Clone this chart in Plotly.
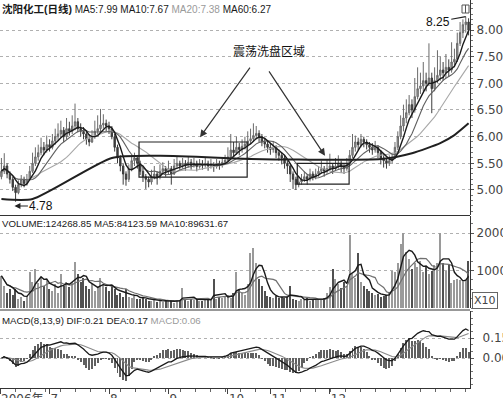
import plotly.graph_objects as go
import pandas as pd

# ---------------- data ----------------
opens = [5.25,5.35,5.45,5.30,5.20,5.05,4.95,5.10,5.20,5.12,5.20,5.35,5.50,5.62,5.70,5.80,5.75,5.85,5.80,5.92,
         6.00,6.05,6.12,6.00,6.15,6.10,6.20,6.28,6.15,6.10,6.05,5.95,5.90,6.00,6.10,6.15,6.22,6.25,6.20,6.15,
         6.00,5.80,5.60,5.45,5.30,5.20,5.40,5.55,5.60,5.50,5.35,5.25,5.20,5.15,5.25,5.30,5.25,5.35,5.40,5.35,
         5.40,5.30,5.45,5.50,5.45,5.50,5.45,5.52,5.46,5.50,5.44,5.50,5.46,5.50,5.45,5.48,5.44,5.50,5.46,5.52,
         5.56,5.62,5.75,5.70,5.80,5.76,5.82,5.86,5.92,5.96,6.02,6.06,6.00,5.90,5.86,5.80,5.76,5.80,5.70,5.65,
         5.60,5.50,5.45,5.30,5.20,5.10,5.15,5.20,5.25,5.20,5.30,5.25,5.30,5.35,5.40,5.35,5.40,5.45,5.40,5.45,
         5.50,5.45,5.40,5.50,5.65,5.80,5.90,5.85,5.95,5.90,5.85,5.80,5.75,5.80,5.70,5.60,5.55,5.50,5.55,5.60,
         5.80,6.00,6.20,6.35,6.45,6.60,6.50,6.75,6.90,6.95,7.05,7.00,7.10,6.90,7.05,7.15,7.25,7.20,7.30,7.25,
         7.40,7.45,7.75,7.95,8.10,8.15]
highs = [5.60,5.69,5.50,5.35,5.25,5.10,5.18,5.28,5.25,5.30,5.45,5.70,5.80,5.85,5.98,5.90,6.02,5.95,6.05,6.15,
         6.25,6.30,6.18,6.35,6.28,6.40,6.62,6.35,6.25,6.18,6.10,6.05,6.12,6.30,6.40,6.52,6.42,6.32,6.28,6.20,
         6.05,5.85,5.65,5.50,5.35,5.48,5.65,5.70,5.62,5.55,5.42,5.30,5.25,5.38,5.45,5.35,5.48,5.52,5.45,5.55,
         5.45,5.58,5.62,5.55,5.60,5.56,5.62,5.58,5.60,5.55,5.58,5.56,5.60,5.55,5.58,5.52,5.58,5.55,5.60,5.66,
         5.80,6.05,5.90,6.00,5.88,5.95,6.00,6.10,6.15,6.25,6.20,6.12,6.05,5.98,5.92,5.88,5.92,5.84,5.76,5.70,
         5.65,5.55,5.48,5.35,5.25,5.25,5.30,5.35,5.30,5.40,5.35,5.40,5.45,5.55,5.45,5.58,5.68,5.50,5.60,5.65,
         5.55,5.50,5.60,5.75,6.05,6.02,5.98,6.05,6.00,5.95,5.90,5.88,5.92,5.84,5.75,5.65,5.60,5.65,5.70,5.90,
         6.10,6.40,6.60,6.70,6.78,6.70,7.10,7.30,7.20,7.40,7.20,7.75,7.20,7.30,7.62,7.50,7.40,7.55,7.45,7.77,
         7.65,7.95,8.15,8.20,8.25,8.22]
lows = [5.20,5.30,5.22,5.12,4.98,4.78,4.92,5.05,5.05,5.08,5.18,5.32,5.45,5.55,5.65,5.65,5.70,5.72,5.76,5.85,
        5.92,5.98,5.90,5.95,6.02,6.05,6.12,6.08,6.00,5.95,5.85,5.82,5.88,5.96,6.05,6.10,6.15,6.10,6.05,5.95,
        5.72,5.50,5.35,5.10,5.08,5.15,5.35,5.45,5.40,5.28,5.15,5.02,5.05,5.10,5.20,5.10,5.20,5.30,5.25,5.30,
        5.10,5.28,5.40,5.38,5.40,5.36,5.42,5.38,5.42,5.35,5.40,5.38,5.42,5.36,5.40,5.34,5.40,5.38,5.42,5.48,
        5.52,5.58,5.62,5.66,5.65,5.70,5.76,5.80,5.86,5.90,5.95,5.90,5.82,5.78,5.70,5.66,5.70,5.60,5.55,5.48,
        5.40,5.30,5.15,5.02,5.00,5.05,5.10,5.15,5.10,5.16,5.18,5.20,5.25,5.30,5.25,5.30,5.36,5.30,5.36,5.40,
        5.32,5.30,5.36,5.46,5.60,5.72,5.75,5.80,5.80,5.76,5.70,5.66,5.70,5.60,5.48,5.42,5.40,5.45,5.50,5.58,
        5.75,5.95,6.10,6.25,6.40,6.35,6.45,6.70,6.80,6.85,6.85,6.95,6.44,6.85,7.00,7.05,7.05,7.10,7.12,7.20,
        7.30,7.40,7.70,7.85,7.95,7.90]
closes = [5.35,5.45,5.30,5.20,5.05,4.95,5.10,5.20,5.12,5.20,5.35,5.50,5.62,5.70,5.80,5.75,5.85,5.80,5.92,6.00,
          6.05,6.12,6.00,6.15,6.10,6.20,6.28,6.15,6.10,6.05,5.95,5.90,6.00,6.10,6.15,6.22,6.25,6.20,6.15,6.00,
          5.80,5.60,5.45,5.30,5.20,5.40,5.55,5.60,5.50,5.35,5.25,5.20,5.15,5.25,5.30,5.25,5.35,5.40,5.35,5.40,
          5.30,5.45,5.50,5.45,5.50,5.45,5.52,5.46,5.50,5.44,5.50,5.46,5.50,5.45,5.48,5.44,5.50,5.46,5.52,5.56,
          5.62,5.75,5.70,5.80,5.76,5.82,5.86,5.92,5.96,6.02,6.06,6.00,5.90,5.86,5.80,5.76,5.80,5.70,5.65,5.60,
          5.50,5.45,5.30,5.20,5.10,5.15,5.20,5.25,5.20,5.30,5.25,5.30,5.35,5.40,5.35,5.40,5.45,5.40,5.45,5.50,
          5.45,5.40,5.50,5.65,5.80,5.90,5.85,5.95,5.90,5.85,5.80,5.75,5.80,5.70,5.60,5.55,5.50,5.55,5.60,5.80,
          6.00,6.20,6.35,6.45,6.60,6.50,6.75,6.90,6.95,7.05,7.00,7.10,6.90,7.05,7.15,7.25,7.20,7.30,7.25,7.40,
          7.45,7.75,7.95,8.10,8.15,8.00]
# volume in axis units (x10)
volumes = [8600,6000,4000,5000,3500,5000,2500,3000,1800,3200,9500,7000,10500,6700,8000,6000,7500,5000,4500,6500,
           4000,9200,6000,7000,5500,7000,12200,9000,7000,8000,6000,5000,6500,4500,5500,8100,6500,5500,4500,6000,
           5000,3500,4000,3000,5000,3000,2800,3200,2500,2400,3000,2400,2000,1800,2200,1600,2400,1500,2000,1800,
           2200,1400,2000,2200,5400,2500,2000,2400,2200,2500,2000,1800,2600,2200,2300,7800,2500,3000,2600,3200,
           3500,2800,4000,9500,5000,4000,3500,6500,14600,16000,12000,7800,6000,4500,3200,3000,2800,3200,2600,3000,
           2800,3000,6000,2500,2200,2000,2400,2200,2600,2000,2400,2200,2500,2300,2600,4000,5500,10500,7800,6500,
           5400,7000,6000,19500,9000,8000,14600,7000,6000,5000,4500,4000,3500,3800,3000,3200,3500,4000,10000,9500,
           12000,17000,20000,15000,13000,10500,12000,11000,12500,9500,11000,9000,10000,11500,12000,20000,12000,10000,11500,6555,
           7500,7650,7500,7000,7500,12427]
# MA60 (day index, value)
ma60_day = [0, 11, 39, 56, 88, 105, 134, 145, 155, 160, 165]
ma60_val = [4.83, 4.83, 5.60, 5.64, 5.58, 5.57, 5.58, 5.69, 5.88, 6.03, 6.25]

month_pos = [-0.5, 17, 38, 59, 80, 95, 116]
month_lab = ["2006年", "7", "8", "9", "10", "11", "12"]
price_ticks = [5.0, 5.5, 6.0, 6.5, 7.0, 7.5, 8.0]
vol_ticks = [10000, 20000]
macd_ticks = [0.0, 0.15]

# ---------------- derived indicators ----------------
s = pd.Series(closes)
ma5 = s.rolling(5, min_periods=1).mean()
ma10 = s.rolling(10, min_periods=1).mean()
ma20 = s.rolling(20, min_periods=1).mean()
v = pd.Series(volumes)
vma5 = v.rolling(5, min_periods=1).mean()
vma10 = v.rolling(10, min_periods=1).mean()
ema8 = s.ewm(span=8, adjust=False).mean()
ema13 = s.ewm(span=13, adjust=False).mean()
dif = ema8 - ema13
dea = dif.ewm(span=9, adjust=False).mean()
macd = 2 * (dif - dea)

N = len(closes)
idx = list(range(N))

W, H = 503, 398
MR, MB = 33, 10
PW, PH = W - MR, H - MB

def py(y):
    return (PH - y) / PH

def pxf(x):
    return x / PW

fig = go.Figure()

fig.add_trace(go.Candlestick(
    x=idx, open=opens, high=highs, low=lows, close=closes,
    increasing=dict(line=dict(color='#6a6a6a', width=1), fillcolor='#9a9a9a'),
    decreasing=dict(line=dict(color='#3c3c3c', width=1), fillcolor='#3c3c3c'),
    whiskerwidth=0, showlegend=False, hoverinfo='skip', xaxis='x', yaxis='y'))
fig.add_trace(go.Scatter(x=idx, y=ma20, mode='lines', line=dict(color='#a8a8a8', width=1.1),
                         showlegend=False, hoverinfo='skip', xaxis='x', yaxis='y'))
fig.add_trace(go.Scatter(x=idx, y=ma10, mode='lines', line=dict(color='#606060', width=1.1),
                         showlegend=False, hoverinfo='skip', xaxis='x', yaxis='y'))
fig.add_trace(go.Scatter(x=idx, y=ma5, mode='lines', line=dict(color='#1a1a1a', width=1.4),
                         showlegend=False, hoverinfo='skip', xaxis='x', yaxis='y'))
fig.add_trace(go.Scatter(x=ma60_day, y=ma60_val, mode='lines', line=dict(color='#202020', width=2, shape='spline', smoothing=0.6),
                         showlegend=False, hoverinfo='skip', xaxis='x', yaxis='y'))

vcol = ['#9a9a9a' if c >= o else '#505050' for o, c in zip(opens, closes)]
fig.add_trace(go.Bar(x=idx, y=volumes, width=0.45, marker=dict(color=vcol, line=dict(width=0)),
                     showlegend=False, hoverinfo='skip', xaxis='x2', yaxis='y2'))
fig.add_trace(go.Scatter(x=idx, y=vma10, mode='lines', line=dict(color='#707070', width=1.2),
                         showlegend=False, hoverinfo='skip', xaxis='x2', yaxis='y2'))
fig.add_trace(go.Scatter(x=idx, y=vma5, mode='lines', line=dict(color='#1a1a1a', width=1.4),
                         showlegend=False, hoverinfo='skip', xaxis='x2', yaxis='y2'))

fig.add_trace(go.Bar(x=idx, y=macd, width=0.35, marker=dict(color='#606060', line=dict(width=0)),
                     showlegend=False, hoverinfo='skip', xaxis='x3', yaxis='y3'))
fig.add_trace(go.Scatter(x=idx, y=dea, mode='lines', line=dict(color='#8a8a8a', width=1.1),
                         showlegend=False, hoverinfo='skip', xaxis='x3', yaxis='y3'))
fig.add_trace(go.Scatter(x=idx, y=dif, mode='lines', line=dict(color='#1a1a1a', width=1.3),
                         showlegend=False, hoverinfo='skip', xaxis='x3', yaxis='y3'))

xr = [-0.5, N - 0.5]
axfont = 'DejaVu Sans, Verdana, sans-serif'
tickfont = dict(family=axfont, size=12, color='#444')
common_x = dict(range=xr, showgrid=False, zeroline=False, fixedrange=True, automargin=False)

yaxis_common = dict(side='right', showline=True, linecolor='#333', linewidth=1.2, zeroline=False,
                    ticks='outside', ticklen=3, tickcolor='#555', tickfont=tickfont, automargin=False,
                    showgrid=True, gridcolor='#b0b0b0', griddash='dot', gridwidth=1)

fig.update_layout(
    width=W, height=H, margin=dict(l=0, r=MR, t=0, b=MB, autoexpand=False),
    paper_bgcolor='white', plot_bgcolor='white', bargap=0, showlegend=False,
    xaxis=dict(domain=[0, 1], anchor='y', showticklabels=False, rangeslider=dict(visible=False), **common_x),
    xaxis2=dict(domain=[0, 1], anchor='y2', showticklabels=False, matches='x', **common_x),
    xaxis3=dict(domain=[0, 1], anchor='y3', matches='x', showticklabels=True,
                tickmode='array', tickvals=month_pos, ticktext=month_lab,
                ticks='outside', ticklen=5, tickcolor='#444', showline=True, linecolor='#333',
                ticklabelposition='outside right',
                minor=dict(tick0=-0.5, dtick=5.3, ticklen=3, tickcolor='#666', ticks='outside'),
                tickfont=dict(family='DejaVu Sans, Noto Sans CJK SC, sans-serif', size=12, color='#444'),
                **common_x),
    yaxis=dict(domain=[py(215), 1], range=[4.531, 8.5625], tickmode='array', tickvals=price_ticks,
               ticktext=['%.2f' % t for t in price_ticks], ticklabelstandoff=0,
               minor=dict(dtick=0.1, ticklen=2, ticks='outside', tickcolor='#777', showgrid=False),
               **yaxis_common),
    yaxis2=dict(domain=[py(308), py(216)], range=[0, 24533], tickmode='array', tickvals=vol_ticks,
                ticktext=[str(t) for t in vol_ticks], ticklabelstandoff=0,
                minor=dict(dtick=2500, ticklen=2, ticks='outside', tickcolor='#777', showgrid=False),
                **yaxis_common),
    yaxis3=dict(domain=[0, py(311)], range=[-0.225, 0.3525], tickmode='array', tickvals=macd_ticks,
                ticktext=['%.2f' % t for t in macd_ticks], ticklabelstandoff=6,
                minor=dict(dtick=0.05, ticklen=2, ticks='outside', tickcolor='#777', showgrid=False),
                **yaxis_common),
)

# panel separators
for yy in (215.5, 310):
    fig.add_shape(type='line', xref='paper', yref='paper', x0=0, x1=1, y0=py(yy), y1=py(yy),
                  line=dict(color='#333', width=1.2))

# boxes around the consolidation zones
fig.add_shape(type='rect', xref='x', yref='y', x0=48.6, x1=86.8, y0=5.24, y1=5.90,
              line=dict(color='#222', width=1.2))
fig.add_shape(type='rect', xref='x', yref='y', x0=104.5, x1=122.8, y0=5.11, y1=5.50,
              line=dict(color='#222', width=1.2))

# small icon at the top right
fig.add_shape(type='rect', xref='paper', yref='paper', x0=pxf(462), x1=pxf(469), y0=py(13), y1=py(5),
              line=dict(color='#555', width=1))
fig.add_shape(type='line', xref='paper', yref='paper', x0=pxf(465.5), x1=pxf(465.5), y0=py(13), y1=py(5),
              line=dict(color='#555', width=1))

latin = 'Liberation Sans, Arial, Noto Sans CJK SC, sans-serif'
fig.add_annotation(xref='paper', yref='paper', x=0, y=py(1), xanchor='left', yanchor='top', showarrow=False,
                   text="<b><span style='font-size:10.5px'>沈阳化工(日线)</span></b> MA5:7.99 MA10:7.67 <span style='color:#9a9a9a'>MA20:7.38</span> MA60:6.27",
                   font=dict(family=latin, size=10, color='#1a1a1a'))
fig.add_annotation(xref='paper', yref='paper', x=0, y=py(216), xanchor='left', yanchor='top', showarrow=False,
                   text="VOLUME:124268.85 MA5:84123.59 MA10:89631.67",
                   font=dict(family=latin, size=9.7, color='#1a1a1a'))
fig.add_annotation(xref='paper', yref='paper', x=0, y=py(313), xanchor='left', yanchor='top', showarrow=False,
                   text="MACD(8,13,9) DIF:0.21 DEA:0.17 <span style='color:#9a9a9a'>MACD:0.06</span>",
                   font=dict(family=latin, size=9.7, color='#1a1a1a'))

# zone label and arrows
fig.add_annotation(xref='x', yref='y', x=94.5, y=7.625, showarrow=False, text='震荡洗盘区域',
                   font=dict(family='Noto Sans CJK SC, sans-serif', size=12, color='#111'))
fig.add_annotation(xref='x', yref='y', x=70.15, y=5.99, ax=51, ay=-71, text='', showarrow=True,
                   arrowhead=2, arrowsize=1.2, arrowwidth=1.2, arrowcolor='#333')
fig.add_annotation(xref='x', yref='y', x=114.3, y=5.64, ax=-57, ay=-86, text='', showarrow=True,
                   arrowhead=2, arrowsize=1.2, arrowwidth=1.2, arrowcolor='#333')

# high / low markers
fig.add_annotation(xref='x', yref='y', x=164, y=8.25, ax=-28, ay=5, text='8.25', showarrow=True,
                   arrowhead=0, arrowwidth=1.2, arrowcolor='#222',
                   font=dict(family=latin, size=12, color='#111'))
fig.add_annotation(xref='x', yref='y', x=4.6, y=4.70, ax=27, ay=0, text='4.78', showarrow=True,
                   arrowhead=2, arrowsize=1, arrowwidth=1.2, arrowcolor='#222',
                   font=dict(family=latin, size=12, color='#111'))

# X10 box on the volume axis
fig.add_annotation(xref='paper', yref='paper', x=pxf(472), y=py(300), xanchor='left', yanchor='middle',
                   showarrow=False, text='X10', bordercolor='#666', borderwidth=1, borderpad=1,
                   bgcolor='white', font=dict(family=axfont, size=11, color='#444'))

fig.write_html("out.html", config={'displayModeBar': False},
               post_script="document.body.style.margin='0';document.body.style.overflow='hidden';")
